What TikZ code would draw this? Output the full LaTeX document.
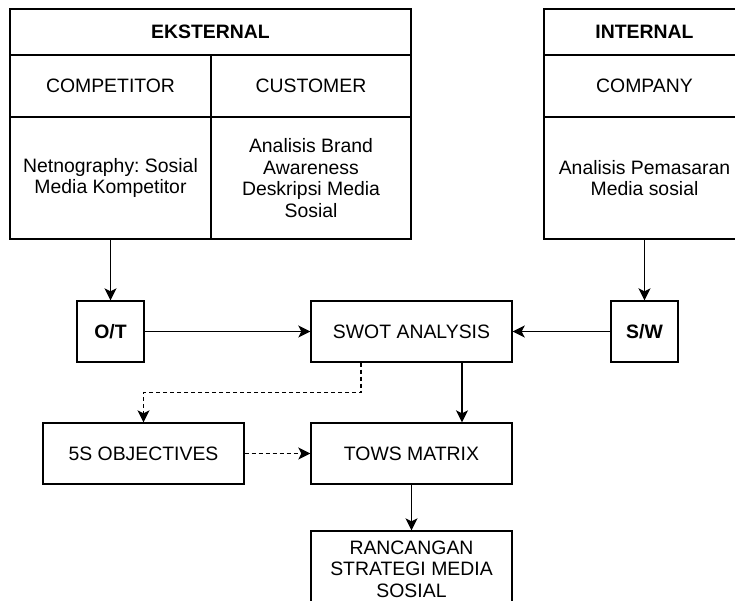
\documentclass[tikz,border=0pt]{standalone}
\usepackage{fontspec}
\setmainfont{Liberation Sans}
\usetikzlibrary{arrows.meta}
\frenchspacing
\begin{document}
\begin{tikzpicture}[x=1pt,y=-1pt,
  every node/.style={font=\fontsize{19.4}{21.5}\selectfont},
  cell/.style={draw, line width=1.4pt, inner sep=0pt, align=center, anchor=center},
  bcell/.style={cell, font=\fontsize{19.4}{21.5}\selectfont\bfseries},
  arr/.style={line width=1.4pt, -{Stealth[length=12pt,width=12pt,inset=3pt]}},
  dsh/.style={dash pattern=on 4pt off 3pt}]
\clip (0,0) rectangle (735,600);
% EKSTERNAL table
\node[bcell, minimum width=401pt, minimum height=46pt] (ext) at (210.5,32) {EKSTERNAL};
\node[cell, minimum width=201pt, minimum height=62pt] (comp) at (110.5,86) {COMPETITOR};
\node[cell, minimum width=200pt, minimum height=62pt] (cust) at (311,86) {CUSTOMER};
\node[cell, minimum width=201pt, minimum height=122pt] (compbody) at (110.5,178) {Netnography: Sosial\\Media Kompetitor};
\node[cell, minimum width=200pt, minimum height=122pt] (custbody) at (311,178) {Analisis Brand\\Awareness\\Deskripsi Media\\Sosial};
% INTERNAL table
\node[bcell, minimum width=201pt, minimum height=46pt] (int) at (644.5,32) {INTERNAL};
\node[cell, minimum width=201pt, minimum height=62pt] (company) at (644.5,86) {COMPANY};
\node[cell, minimum width=201pt, minimum height=122pt] (intbody) at (644.5,178) {Analisis Pemasaran\\Media sosial};
% middle row
\node[bcell, minimum width=67pt, minimum height=61pt] (ot) at (110.5,331.5) {O/T};
\node[cell, minimum width=201pt, minimum height=61pt] (swot) at (411.5,331.5) {SWOT ANALYSIS};
\node[bcell, minimum width=67pt, minimum height=61pt] (sw) at (644.5,331.5) {S/W};
% lower rows
\node[cell, minimum width=201pt, minimum height=61pt] (obj) at (143.5,453.5) {5S OBJECTIVES};
\node[cell, minimum width=201pt, minimum height=61pt] (tows) at (411.5,453.5) {TOWS MATRIX};
\node[cell, minimum width=201pt, minimum height=76pt] (ranc) at (411.5,569) {RANCANGAN\\STRATEGI MEDIA\\SOSIAL};
% connectors
\draw[arr] (compbody.south) -- (ot.north);
\draw[arr] (intbody.south) -- (sw.north);
\draw[arr] (ot.east) -- (swot.west);
\draw[arr] (sw.west) -- (swot.east);
\draw[arr] ([xshift=50.5pt]swot.south) -- ([xshift=50.5pt]tows.north);
\draw[arr, dsh] ([xshift=-50.5pt]swot.south) -- ++(0,30) -| (obj.north);
\draw[arr, dsh] (obj.east) -- (tows.west);
\draw[arr] (tows.south) -- (ranc.north);
\end{tikzpicture}
\end{document}
